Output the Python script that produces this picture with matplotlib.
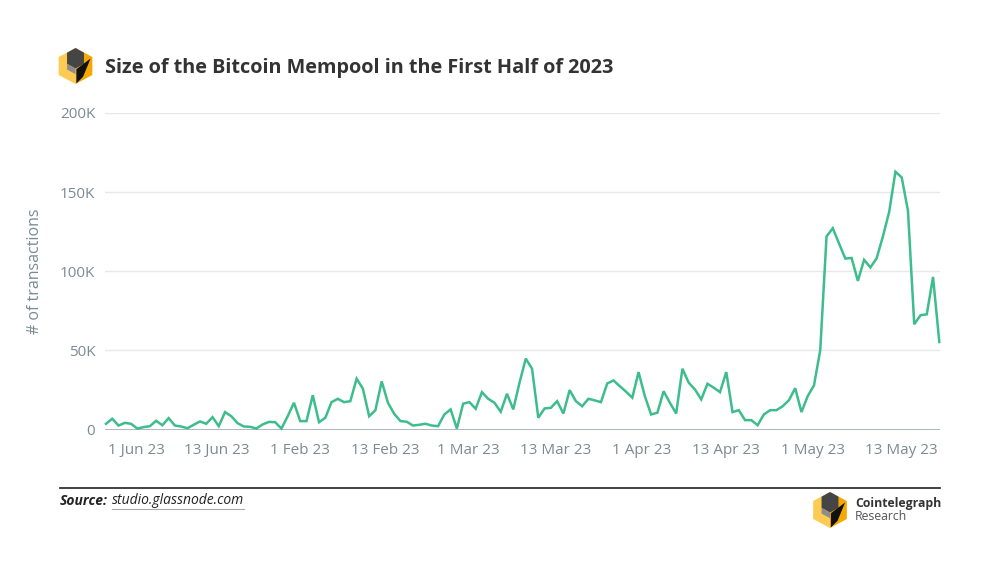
import matplotlib
matplotlib.use("Agg")
import matplotlib.pyplot as plt
from matplotlib.patches import Polygon
from matplotlib.ticker import FuncFormatter
import numpy as np

# ---- data (number of mempool transactions) ----
mempool_tx = [
    3600, 6800, 2500, 4200, 3600, 600, 1500, 2100, 5500, 2700,
    7200, 2500, 1900, 800, 3000, 5100, 3600, 7800, 2100, 11000,
    8400, 4000, 1900, 1700, 600, 3200, 4800, 4600, 600, 8400,
    16900, 5300, 5300, 21700, 4600, 7400, 17300, 19400, 17300, 17900,
    32100, 25800, 8400, 12200, 30400, 16900, 9900, 5300, 4900, 2500,
    3000, 3600, 2500, 2100, 9500, 12700, 600, 16300, 17300, 13100,
    23600, 19400, 16900, 11200, 22600, 12700, 29600, 44800, 38400, 7400,
    13300, 13700, 17900, 10100, 24900, 17900, 14700, 19400, 18400, 17300,
    29100, 31000, 27400, 23900, 20100, 36300, 21100, 9500, 10600, 24200,
    16900, 10100, 38400, 29600, 25300, 19000, 28900, 26400, 23600, 36300,
    11000, 12200, 5900, 5900, 2700, 9500, 12200, 12200, 14700, 18500,
    26100, 11000, 21100, 27900, 50200, 122000, 127200, 117500, 108000, 108400,
    93900, 107200, 102400, 108200, 122000, 137500, 162900, 159300, 138200, 66500,
    72200, 72800, 96400, 55300,
]
tick_positions = [4.8, 17.7, 31.0, 44.5, 57.9, 71.8, 85.5, 99.0, 112.8, 127.0]
tick_labels = ["1 Jun 23", "13 Jun 23", "1 Feb 23", "13 Feb 23", "1 Mar 23",
               "13 Mar 23", "1 Apr 23", "13 Apr 23", "1 May 23", "13 May 23"]
y_ticks = [0, 50000, 100000, 150000, 200000]

title = "Size of the Bitcoin Mempool in the First Half of 2023"
y_label = "# of transactions"

FONT = ["Open Sans", "DejaVu Sans"]
plt.rcParams["font.family"] = FONT

GREY_TXT = "#7b8a93"
LINE_COL = "#3dbd8d"

fig = plt.figure(figsize=(10, 5.73), dpi=100)
W, H = 1000, 573

def fx(px):
    return px / W

def fy(py):
    return 1 - py / H

ax = fig.add_axes([fx(105), fy(429.5), (940 - 105) / W, (429.5 - 113) / H])
x = np.arange(len(mempool_tx))
ax.plot(x, mempool_tx, color=LINE_COL, lw=1.8, solid_joinstyle="miter", zorder=3, clip_on=False)
ax.set_xlim(-1 / 6.265, len(mempool_tx) - 1 + 0.7 / 6.265)
ax.set_ylim(0, 200000)
ax.set_yticks(y_ticks)
ax.yaxis.set_major_formatter(FuncFormatter(lambda v, p: "0" if v == 0 else f"{int(v/1000)}K"))
ax.set_xticks(tick_positions)
ax.set_xticklabels(tick_labels)
ax.tick_params(axis="both", length=0, labelsize=11, labelcolor=GREY_TXT)
ax.tick_params(axis="x", pad=10)
ax.tick_params(axis="y", pad=7)
for s in ax.spines.values():
    s.set_visible(False)
ax.grid(axis="y", color="#e8e8e8", lw=1)
ax.set_axisbelow(True)
ax.axhline(0, color="#a7b1b6", lw=2, zorder=2)
ax.set_ylabel(y_label, color=GREY_TXT, fontsize=11.5, labelpad=12)

# title
fig.text(fx(105), fy(68), title, fontsize=14.3, fontweight="bold", color="#333333",
         ha="left", va="center")

# logos
def draw_logo(cx, cy, r):
    lax = fig.add_axes([fx(cx - r * 1.1), fy(cy + r * 1.1), 2.2 * r / W, 2.2 * r / H])
    lax.set_xlim(-1.1, 1.1)
    lax.set_ylim(-1.1, 1.1)
    lax.axis("off")
    c = np.cos(np.pi / 6) * 1.08
    left = [(0, 1), (0, -1), (-c, -0.5), (-c, 0.5)]
    right = [(0, 1), (c, 0.5), (c, -0.5), (0, -1)]
    lax.add_patch(Polygon(left, closed=True, fc="#fdcb52", ec="none"))
    lax.add_patch(Polygon(right, closed=True, fc="#f6a800", ec="none"))
    dark = [(0, 1), (0.47, 0.74), (0.47, 0.12), (0, -0.14), (-0.47, 0.12), (-0.47, 0.74)]
    lax.add_patch(Polygon(dark, closed=True, fc="#454545", ec="none"))
    mid = [(-0.47, 0.12), (0, -0.14), (0, -0.45), (-0.47, -0.2)]
    lax.add_patch(Polygon(mid, closed=True, fc="#8c8c8c", ec="none"))
    bolt = [(0.84, 0.42), (0.05, -0.18), (0.05, -0.97), (0.42, -0.6)]
    lax.add_patch(Polygon(bolt, closed=True, fc="#111111", ec="none"))

draw_logo(75.5, 66, 18)
draw_logo(830, 510, 18)

# bottom rule
fig.add_artist(plt.Line2D([fx(60), fx(940)], [fy(487.5), fy(487.5)], color="#333333", lw=1.3))

t1 = fig.text(fx(60), fy(501), "Source:", fontsize=10, fontweight="bold", style="italic",
              color="#222222", ha="left", va="center")
fig.canvas.draw()
bb = t1.get_window_extent()
x2 = bb.x1 + 4
t2 = fig.text(x2 / W, fy(501), "studio.glassnode.com", fontsize=10, style="italic",
              color="#222222", ha="left", va="center")
fig.canvas.draw()
bb2 = t2.get_window_extent()
fig.add_artist(plt.Line2D([bb2.x0 / W, bb2.x1 / W], [fy(509), fy(509)], color="#aaaaaa", lw=0.8))

fig.text(fx(855), fy(504), "Cointelegraph", fontsize=8.8, fontweight="bold", color="#333333",
         ha="left", va="center")
fig.text(fx(855), fy(516), "Research", fontsize=8.8, color="#555555", ha="left", va="center")

fig.savefig("out.png", dpi=100, facecolor="white")
